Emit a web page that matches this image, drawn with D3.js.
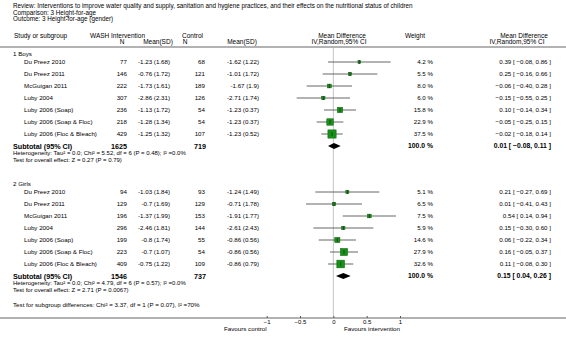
<!DOCTYPE html>
<html>
<head>
<meta charset="utf-8">
<style>
  body { margin: 0; background: #fff; }
  text { font-family: "Liberation Sans", Arial, sans-serif; fill: #000; }
</style>
</head>
<body>
<div id="chart"></div>
<script src="https://cdn.jsdelivr.net/npm/d3@7"></script>
<script>
const width = 566;
const height = 341;

// data
const groups = ["1 Boys", "2 Girls"];
const studies = ["Du Preez 2010", "Du Preez 2011", "McGuigan 2011", "Luby 2004",
  "Luby 2006 (Soap)", "Luby 2006 (Soap & Floc)", "Luby 2006 (Floc & Bleach)"];

const boysIntN = [77, 146, 222, 307, 236, 218, 429];
const boysIntMeanSD = ["-1.23 (1.68)", "-0.76 (1.72)", "-1.73 (1.61)", "-2.86 (2.31)", "-1.13 (1.72)", "-1.28 (1.34)", "-1.25 (1.32)"];
const boysCtlN = [68, 121, 189, 126, 54, 54, 107];
const boysCtlMeanSD = ["-1.62 (1.22)", "-1.01 (1.72)", "-1.67 (1.9)", "-2.71 (1.74)", "-1.23 (0.37)", "-1.23 (0.37)", "-1.23 (0.52)"];
const boysWeight = [4.2, 5.5, 8.0, 6.0, 15.8, 22.9, 37.5];
const boysMD = [0.39, 0.25, -0.06, -0.15, 0.10, -0.05, -0.02];
const boysLo = [-0.08, -0.16, -0.40, -0.55, -0.14, -0.25, -0.18];
const boysHi = [0.86, 0.66, 0.28, 0.25, 0.34, 0.15, 0.14];
const boysTotal = { intN: 1625, ctlN: 719, md: 0.01, lo: -0.08, hi: 0.11 };

const girlsIntN = [94, 129, 196, 296, 199, 223, 409];
const girlsIntMeanSD = ["-1.03 (1.84)", "-0.7 (1.69)", "-1.37 (1.99)", "-2.46 (1.81)", "-0.8 (1.74)", "-0.7 (1.07)", "-0.75 (1.22)"];
const girlsCtlN = [93, 129, 153, 144, 55, 54, 109];
const girlsCtlMeanSD = ["-1.24 (1.49)", "-0.71 (1.78)", "-1.91 (1.77)", "-2.61 (2.43)", "-0.86 (0.56)", "-0.86 (0.56)", "-0.86 (0.79)"];
const girlsWeight = [5.1, 6.5, 7.5, 5.9, 14.6, 27.9, 32.6];
const girlsMD = [0.21, 0.01, 0.54, 0.15, 0.06, 0.16, 0.11];
const girlsLo = [-0.27, -0.41, 0.14, -0.30, -0.22, -0.05, -0.08];
const girlsHi = [0.69, 0.43, 0.94, 0.60, 0.34, 0.37, 0.30];
const girlsTotal = { intN: 1546, ctlN: 737, md: 0.15, lo: 0.04, hi: 0.26 };

const heterogeneity = [
  "Heterogeneity: Tau\u00b2 = 0.0; Chi\u00b2 = 5.52, df = 6 (P = 0.48); I\u00b2 =0.0%",
  "Heterogeneity: Tau\u00b2 = 0.0; Chi\u00b2 = 4.79, df = 6 (P = 0.57); I\u00b2 =0.0%"
];
const overallEffect = [
  "Test for overall effect: Z = 0.27 (P = 0.79)",
  "Test for overall effect: Z = 2.71 (P = 0.0067)"
];
const subgroupTest = "Test for subgroup differences: Chi\u00b2 = 3.37, df = 1 (P = 0.07), I\u00b2 =70%";
const axisTicks = [-1, -0.5, 0, 0.5, 1];

const groupData = [
  { intN: boysIntN, intMS: boysIntMeanSD, ctlN: boysCtlN, ctlMS: boysCtlMeanSD, w: boysWeight, md: boysMD, lo: boysLo, hi: boysHi, total: boysTotal },
  { intN: girlsIntN, intMS: girlsIntMeanSD, ctlN: girlsCtlN, ctlMS: girlsCtlMeanSD, w: girlsWeight, md: girlsMD, lo: girlsLo, hi: girlsHi, total: girlsTotal }
];

const svg = d3.select("#chart").append("svg")
  .attr("width", width).attr("height", height);

// scales
const x = d3.scaleLinear().domain([-1, 1]).range([266.7, 400]);
const boxSize = d3.scaleSqrt().domain([0, 40]).range([0, 8.5]);
const groupTop = [54, 184];
const rowY = g => d3.scaleLinear().domain([0, 1]).range([groupTop[g] + 8, groupTop[g] + 20]);

const f2 = d3.format(".2f");
const f1 = d3.format(".1f");
const ciText = (m, l, h) => `${f2(m)} [ ${f2(l)}, ${f2(h)} ]`;

function txt(xp, yp, s, opts = {}) {
  return svg.append("text")
    .attr("x", xp).attr("y", yp).attr("dy", "0.35em")
    .attr("font-size", opts.size || 6.2)
    .attr("font-weight", opts.bold ? "bold" : null)
    .attr("text-anchor", opts.anchor || "start")
    .text(s);
}

// title block
txt(13, 6, "Review:  Interventions to improve water quality and supply, sanitation and hygiene practices, and their effects on the nutritional status of children", { size: 6.3 });
txt(13, 12.5, "Comparison:  3 Height-for-age", { size: 6.3 });
txt(13, 19, "Outcome:  3 Height-for-age (gender)", { size: 6.3 });

// column headers
txt(14, 35.5, "Study or subgroup", { size: 6.5 });
txt(90, 35.5, "WASH Intervention", { size: 6.5 });
txt(122, 41.5, "N", { size: 6.5, anchor: "middle" });
txt(158, 41.5, "Mean(SD)", { size: 6.5, anchor: "middle" });
txt(182, 35.5, "Control", { size: 6.5 });
txt(185, 41.5, "N", { size: 6.5, anchor: "middle" });
txt(242, 41.5, "Mean(SD)", { size: 6.5, anchor: "middle" });
txt(342, 35.5, "Mean Difference", { size: 6.5, anchor: "middle" });
txt(339, 41.5, "IV,Random,95% CI", { size: 6.5, anchor: "middle" });
txt(415, 35.5, "Weight", { size: 6.5, anchor: "middle" });
txt(524, 35.5, "Mean Difference", { size: 6.5, anchor: "middle" });
txt(517, 41.5, "IV,Random,95% CI", { size: 6.5, anchor: "middle" });

svg.append("line")
  .attr("x1", 0).attr("x2", width).attr("y1", 47).attr("y2", 47)
  .attr("stroke", "#999").attr("stroke-width", 1.5);

// axis line at the bottom
const axisY = 318;
svg.append("line")
  .attr("x1", 0).attr("x2", width).attr("y1", axisY).attr("y2", axisY)
  .attr("stroke", "#999").attr("stroke-width", 1.5);

// zero line
svg.append("line")
  .attr("x1", x(0)).attr("x2", x(0)).attr("y1", 48).attr("y2", axisY)
  .attr("stroke", "#c4c4c4").attr("stroke-width", 1);

const axis = d3.axisBottom(x).tickValues(axisTicks).tickSize(2)
  .tickFormat(d => d === 0 ? "0" : d3.format("")(d));
const ax = svg.append("g").attr("transform", `translate(0,${axisY - 2})`).call(axis);
ax.select(".domain").remove();
ax.selectAll(".tick line").attr("stroke", "#555");
ax.selectAll(".tick text").attr("font-size", 6).attr("y", 3.5).attr("fill", "#000")
  .attr("font-family", "Liberation Sans, Arial, sans-serif");

txt(x(-1), 329, "Favours control", { anchor: "end" });
txt(x(1), 329, "Favours intervention", { anchor: "end" });

// groups
groupData.forEach((gd, g) => {
  const y = rowY(g);
  txt(13, groupTop[g], groups[g]);

  studies.forEach((s, i) => {
    const yy = y(i);
    txt(24, yy, s);
    txt(127, yy, gd.intN[i], { anchor: "end" });
    txt(170, yy, gd.intMS[i], { anchor: "end" });
    txt(205, yy, gd.ctlN[i], { anchor: "end" });
    txt(259, yy, gd.ctlMS[i], { anchor: "end" });
    txt(433, yy, f1(gd.w[i]) + " %", { anchor: "end" });
    txt(551, yy, ciText(gd.md[i], gd.lo[i], gd.hi[i]), { anchor: "end" });

    svg.append("line")
      .attr("x1", x(gd.lo[i])).attr("x2", x(gd.hi[i]))
      .attr("y1", yy).attr("y2", yy)
      .attr("stroke", "#555").attr("stroke-width", 0.9);
    const b = boxSize(gd.w[i]);
    svg.append("rect")
      .attr("x", x(gd.md[i]) - b / 2).attr("y", yy - b / 2)
      .attr("width", b).attr("height", b)
      .attr("fill", "#149414").attr("stroke", "#0a5a0a").attr("stroke-width", 0.5);
    svg.append("line")
      .attr("x1", x(gd.md[i])).attr("x2", x(gd.md[i]))
      .attr("y1", yy - 2).attr("y2", yy + 2)
      .attr("stroke", "#222").attr("stroke-width", 0.7);
  });

  const ys = y(7);
  const t = gd.total;
  txt(13, ys, "Subtotal (95% CI)", { size: 7.2, bold: true });
  txt(127, ys, t.intN, { size: 7.2, bold: true, anchor: "end" });
  txt(206, ys, t.ctlN, { size: 7.2, bold: true, anchor: "end" });
  txt(433, ys, "100.0 %", { size: 6.8, bold: true, anchor: "end" });
  txt(551, ys, ciText(t.md, t.lo, t.hi), { size: 6.8, bold: true, anchor: "end" });
  txt(13, ys + 7.2, heterogeneity[g], { size: 6 });
  txt(13, ys + 13.5, overallEffect[g], { size: 6 });

  const dh = 3;
  svg.append("path")
    .attr("d", `M${x(t.lo)},${ys} L${x(t.md)},${ys - dh} L${x(t.hi)},${ys} L${x(t.md)},${ys + dh} Z`)
    .attr("fill", "#000");
});

txt(13, 305, subgroupTest);
</script>
</body>
</html>
